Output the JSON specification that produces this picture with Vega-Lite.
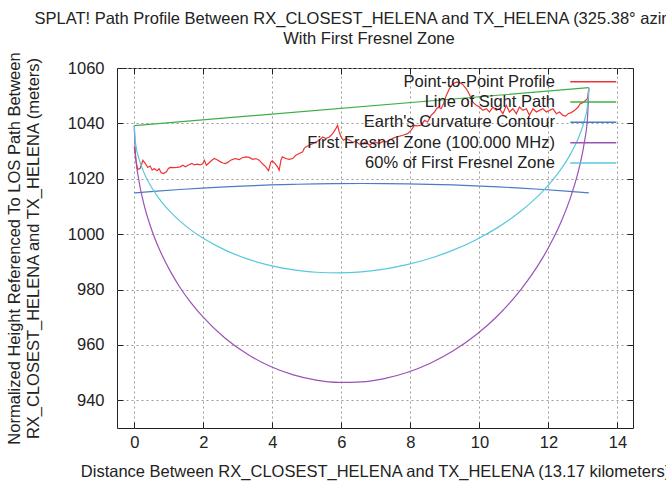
{
  "$schema": "https://vega.github.io/schema/vega-lite/v6.json",
  "width": 516,
  "height": 360,
  "autosize": {"type": "none"},
  "padding": {"left": 117, "top": 68, "right": 33, "bottom": 56},
  "background": "white",
  "title": {
    "text": ["SPLAT! Path Profile Between RX_CLOSEST_HELENA and TX_HELENA (325.38° azimuth)", "With First Fresnel Zone"],
    "anchor": "middle",
    "frame": "group",
    "font": "Liberation Sans",
    "fontSize": 16.5,
    "fontWeight": "normal",
    "color": "#222222",
    "lineHeight": 20,
    "offset": 4,
    "dx": -6
  },
  "config": {
    "view": {"stroke": "#222222", "strokeWidth": 1},
    "font": "Liberation Sans",
    "axis": {
      "labelFont": "Liberation Sans",
      "labelFontSize": 16.5,
      "labelColor": "#222222",
      "titleFont": "Liberation Sans",
      "titleFontSize": 16.5,
      "titleFontWeight": "normal",
      "titleColor": "#222222",
      "tickColor": "#222222",
      "tickSize": -6,
      "tickWidth": 1,
      "domain": false,
      "gridColor": "#9a9a9a",
      "gridDash": [2, 3],
      "gridWidth": 1,
      "gridOpacity": 1
    }
  },
  "layer": [
    {
      "encoding": {
        "x": {
          "field": "d", "type": "quantitative",
          "scale": {"domain": [-0.5, 14.45], "nice": false, "zero": false},
          "axis": {"orient": "bottom", "values": [0, 2, 4, 6, 8, 10, 12, 14], "grid": false, "labelPadding": 12, "titlePadding": 13,
                   "title": "Distance Between RX_CLOSEST_HELENA and TX_HELENA (13.17 kilometers)"}
        },
        "y": {
          "field": "h", "type": "quantitative",
          "scale": {"domain": [930, 1060], "nice": false, "zero": false},
          "axis": {"orient": "left", "values": [940, 960, 980, 1000, 1020, 1040, 1060], "format": "d", "grid": false, "labelPadding": 19, "titlePadding": 26, "titleLineHeight": 19,
                   "title": ["Normalized Height Referenced To LOS Path Between", "RX_CLOSEST_HELENA and TX_HELENA (meters)"]}
        }
      },
      "layer": [
        {
          "data": {"values": [
            {"d": 0, "h": 1031.5}, {"d": 0.05, "h": 1026.5}, {"d": 0.1, "h": 1023.4}, {"d": 0.17, "h": 1023.7}, {"d": 0.25, "h": 1026.7},
            {"d": 0.32, "h": 1025.5}, {"d": 0.39, "h": 1024.1}, {"d": 0.46, "h": 1024.6}, {"d": 0.52, "h": 1023.1}, {"d": 0.58, "h": 1023.7},
            {"d": 0.66, "h": 1022.9}, {"d": 0.72, "h": 1023.6}, {"d": 0.78, "h": 1022.2}, {"d": 0.85, "h": 1021.9}, {"d": 0.93, "h": 1022.5},
            {"d": 0.99, "h": 1023.7}, {"d": 1.04, "h": 1024.1}, {"d": 1.14, "h": 1024.0}, {"d": 1.24, "h": 1024.1}, {"d": 1.33, "h": 1024.3},
            {"d": 1.41, "h": 1024.9}, {"d": 1.48, "h": 1024.3}, {"d": 1.57, "h": 1025.0}, {"d": 1.67, "h": 1025.5}, {"d": 1.74, "h": 1025.0},
            {"d": 1.82, "h": 1025.3}, {"d": 1.91, "h": 1025.0}, {"d": 1.99, "h": 1025.5}, {"d": 2.03, "h": 1026.7}, {"d": 2.09, "h": 1024.9},
            {"d": 2.17, "h": 1025.8}, {"d": 2.25, "h": 1026.7}, {"d": 2.32, "h": 1027.3}, {"d": 2.41, "h": 1026.8}, {"d": 2.5, "h": 1026.1},
            {"d": 2.57, "h": 1025.7}, {"d": 2.64, "h": 1025.5}, {"d": 2.72, "h": 1026.0}, {"d": 2.79, "h": 1026.7}, {"d": 2.86, "h": 1027.0},
            {"d": 2.93, "h": 1027.3}, {"d": 3.04, "h": 1026.9}, {"d": 3.13, "h": 1027.6}, {"d": 3.23, "h": 1027.9}, {"d": 3.33, "h": 1027.7},
            {"d": 3.43, "h": 1027.0}, {"d": 3.52, "h": 1027.3}, {"d": 3.62, "h": 1026.7}, {"d": 3.71, "h": 1025.5}, {"d": 3.81, "h": 1024.3},
            {"d": 3.89, "h": 1022.9}, {"d": 3.96, "h": 1026.1}, {"d": 4.0, "h": 1026.5}, {"d": 4.08, "h": 1025.5}, {"d": 4.15, "h": 1024.3},
            {"d": 4.2, "h": 1023.1}, {"d": 4.25, "h": 1026.7}, {"d": 4.29, "h": 1027.9}, {"d": 4.39, "h": 1027.3}, {"d": 4.49, "h": 1027.0},
            {"d": 4.59, "h": 1027.3}, {"d": 4.68, "h": 1028.5}, {"d": 4.78, "h": 1029.1}, {"d": 4.88, "h": 1029.7}, {"d": 4.92, "h": 1030.9},
            {"d": 4.97, "h": 1031.5}, {"d": 5.07, "h": 1032.1}, {"d": 5.17, "h": 1032.7}, {"d": 5.26, "h": 1033.3}, {"d": 5.36, "h": 1033.9},
            {"d": 5.46, "h": 1035.1}, {"d": 5.55, "h": 1034.5}, {"d": 5.65, "h": 1035.1}, {"d": 5.75, "h": 1036.3}, {"d": 5.84, "h": 1038.1},
            {"d": 5.89, "h": 1039.3}, {"d": 5.94, "h": 1036.9}, {"d": 5.99, "h": 1035.1}, {"d": 6.06, "h": 1033.9}, {"d": 6.13, "h": 1034.5},
            {"d": 6.23, "h": 1034.0}, {"d": 6.33, "h": 1033.2}, {"d": 6.42, "h": 1033.5}, {"d": 6.52, "h": 1032.5}, {"d": 6.62, "h": 1032.8},
            {"d": 6.71, "h": 1033.3}, {"d": 6.81, "h": 1032.1}, {"d": 6.96, "h": 1033.3}, {"d": 7.1, "h": 1032.7}, {"d": 7.2, "h": 1033.5},
            {"d": 7.3, "h": 1033.3}, {"d": 7.39, "h": 1033.9}, {"d": 7.49, "h": 1034.6}, {"d": 7.59, "h": 1035.1}, {"d": 7.69, "h": 1035.4},
            {"d": 7.78, "h": 1035.7}, {"d": 7.92, "h": 1036.3}, {"d": 8.02, "h": 1037.5}, {"d": 8.12, "h": 1039.3}, {"d": 8.21, "h": 1039.1},
            {"d": 8.31, "h": 1039.3}, {"d": 8.41, "h": 1041.1}, {"d": 8.5, "h": 1040.5}, {"d": 8.6, "h": 1042.9}, {"d": 8.7, "h": 1044.1},
            {"d": 8.76, "h": 1045.3}, {"d": 8.82, "h": 1045.9}, {"d": 8.89, "h": 1045.3}, {"d": 8.96, "h": 1047.1}, {"d": 9.04, "h": 1050.1},
            {"d": 9.13, "h": 1052.5}, {"d": 9.23, "h": 1054.3}, {"d": 9.33, "h": 1054.9}, {"d": 9.42, "h": 1054.8}, {"d": 9.52, "h": 1054.0},
            {"d": 9.62, "h": 1052.5}, {"d": 9.71, "h": 1050.5}, {"d": 9.81, "h": 1047.7}, {"d": 9.91, "h": 1046.5}, {"d": 10.0, "h": 1045.9},
            {"d": 10.1, "h": 1044.7}, {"d": 10.2, "h": 1045.3}, {"d": 10.29, "h": 1044.1}, {"d": 10.39, "h": 1045.9}, {"d": 10.49, "h": 1044.7},
            {"d": 10.58, "h": 1045.3}, {"d": 10.68, "h": 1043.5}, {"d": 10.78, "h": 1046.5}, {"d": 10.87, "h": 1044.1}, {"d": 10.97, "h": 1045.3},
            {"d": 11.07, "h": 1043.5}, {"d": 11.16, "h": 1045.9}, {"d": 11.26, "h": 1044.7}, {"d": 11.36, "h": 1045.3}, {"d": 11.45, "h": 1042.9},
            {"d": 11.55, "h": 1045.3}, {"d": 11.65, "h": 1044.1}, {"d": 11.74, "h": 1044.7}, {"d": 11.84, "h": 1045.3}, {"d": 11.94, "h": 1044.1},
            {"d": 12.03, "h": 1044.7}, {"d": 12.13, "h": 1045.3}, {"d": 12.23, "h": 1043.5}, {"d": 12.32, "h": 1044.1}, {"d": 12.42, "h": 1042.9},
            {"d": 12.5, "h": 1042.6}, {"d": 12.57, "h": 1043.5}, {"d": 12.66, "h": 1043.9}, {"d": 12.76, "h": 1044.7}, {"d": 12.86, "h": 1045.9},
            {"d": 12.92, "h": 1047.1}, {"d": 13.0, "h": 1047.5}, {"d": 13.13, "h": 1048.9}, {"d": 13.17, "h": 1052.5}
          ]},
          "mark": {"type": "line", "strokeWidth": 1.2},
          "encoding": {
            "color": {
              "datum": "Point-to-Point Profile",
              "scale": {
                "domain": ["Point-to-Point Profile", "Line of Sight Path", "Earth's Curvature Contour", "First Fresnel Zone (100.000 MHz)", "60% of First Fresnel Zone"],
                "range": ["#ee3434", "#3cb043", "#4a7cc8", "#9a52b6", "#58c8dc"]
              },
              "legend": {
                "orient": "none", "legendX": 468, "legendY": 5.5, "title": null,
                "symbolType": "M-5,0H5", "symbolSize": 84.64, "symbolStrokeWidth": 1.5,
                "labelAlign": "right", "labelOffset": -46.6, "labelFont": "Liberation Sans", "labelFontSize": 16.5,
                "labelColor": "#222222", "labelLimit": 400, "rowPadding": 3.3, "padding": 0
              }
            }
          }
        },
        {
          "data": {"values": [{"d": 0, "h": 1039.2}, {"d": 13.17, "h": 1052.9}]},
          "mark": {"type": "line", "strokeWidth": 1.2},
          "encoding": {"color": {"datum": "Line of Sight Path"}}
        },
        {
          "data": {"values": [
            {"d": 0, "h": 1014.9}, {"d": 0.659, "h": 1015.55}, {"d": 1.317, "h": 1016.12}, {"d": 1.976, "h": 1016.63}, {"d": 2.634, "h": 1017.08},
            {"d": 3.293, "h": 1017.45}, {"d": 3.951, "h": 1017.76}, {"d": 4.61, "h": 1017.99}, {"d": 5.268, "h": 1018.16}, {"d": 5.927, "h": 1018.27},
            {"d": 6.585, "h": 1018.3}, {"d": 7.244, "h": 1018.27}, {"d": 7.902, "h": 1018.16}, {"d": 8.561, "h": 1017.99}, {"d": 9.219, "h": 1017.76},
            {"d": 9.878, "h": 1017.45}, {"d": 10.536, "h": 1017.08}, {"d": 11.195, "h": 1016.63}, {"d": 11.853, "h": 1016.12}, {"d": 12.512, "h": 1015.55},
            {"d": 13.17, "h": 1014.9}
          ]},
          "mark": {"type": "line", "strokeWidth": 1.2, "interpolate": "monotone"},
          "encoding": {"color": {"datum": "Earth's Curvature Contour"}}
        },
        {
          "data": {"values": [
            {"d": 0, "h": 1039.2}, {"d": 0.033, "h": 1029.3}, {"d": 0.132, "h": 1019.56}, {"d": 0.263, "h": 1011.64}, {"d": 0.527, "h": 1000.79},
            {"d": 0.79, "h": 992.8}, {"d": 1.054, "h": 986.37}, {"d": 1.317, "h": 980.93}, {"d": 1.646, "h": 975.17}, {"d": 1.976, "h": 970.28},
            {"d": 2.634, "h": 962.42}, {"d": 3.293, "h": 956.55}, {"d": 3.951, "h": 952.21}, {"d": 4.61, "h": 949.18}, {"d": 5.268, "h": 947.29},
            {"d": 5.927, "h": 946.47}, {"d": 6.585, "h": 946.65}, {"d": 7.244, "h": 947.84}, {"d": 7.902, "h": 950.03}, {"d": 8.561, "h": 953.29},
            {"d": 9.219, "h": 957.69}, {"d": 9.878, "h": 963.4}, {"d": 10.536, "h": 970.64}, {"d": 11.195, "h": 979.87}, {"d": 11.524, "h": 985.45},
            {"d": 11.853, "h": 991.89}, {"d": 12.116, "h": 997.87}, {"d": 12.38, "h": 1004.86}, {"d": 12.643, "h": 1013.39}, {"d": 12.907, "h": 1024.8},
            {"d": 13.038, "h": 1032.98}, {"d": 13.137, "h": 1042.94}, {"d": 13.17, "h": 1052.9}
          ]},
          "mark": {"type": "line", "strokeWidth": 1.2, "interpolate": "monotone"},
          "encoding": {"color": {"datum": "First Fresnel Zone (100.000 MHz)"}}
        },
        {
          "data": {"values": [
            {"d": 0, "h": 1039.2}, {"d": 0.033, "h": 1033.27}, {"d": 0.132, "h": 1027.47}, {"d": 0.263, "h": 1022.77}, {"d": 0.527, "h": 1016.38},
            {"d": 0.79, "h": 1011.69}, {"d": 1.054, "h": 1007.94}, {"d": 1.317, "h": 1004.79}, {"d": 1.646, "h": 1001.46}, {"d": 1.976, "h": 998.67},
            {"d": 2.634, "h": 994.23}, {"d": 3.293, "h": 990.98}, {"d": 3.951, "h": 988.65}, {"d": 4.61, "h": 987.11}, {"d": 5.268, "h": 986.24},
            {"d": 5.927, "h": 986.03}, {"d": 6.585, "h": 986.41}, {"d": 7.244, "h": 987.4}, {"d": 7.902, "h": 988.98}, {"d": 8.561, "h": 991.22},
            {"d": 9.219, "h": 994.13}, {"d": 9.878, "h": 997.83}, {"d": 10.536, "h": 1002.45}, {"d": 11.195, "h": 1008.26}, {"d": 11.524, "h": 1011.74},
            {"d": 11.853, "h": 1015.75}, {"d": 12.116, "h": 1019.44}, {"d": 12.38, "h": 1023.75}, {"d": 12.643, "h": 1028.98}, {"d": 12.907, "h": 1035.93},
            {"d": 13.038, "h": 1040.89}, {"d": 13.137, "h": 1046.91}, {"d": 13.17, "h": 1052.9}
          ]},
          "mark": {"type": "line", "strokeWidth": 1.2, "interpolate": "monotone"},
          "encoding": {"color": {"datum": "60% of First Fresnel Zone"}}
        }
      ]
    },
    {
      "data": {"values": [{"d": 0, "h": 1039.2}, {"d": 13.17, "h": 1052.9}]},
      "mark": {"type": "line", "strokeOpacity": 0},
      "encoding": {
        "x": {"field": "d", "type": "quantitative", "scale": {"domain": [-0.5, 14.45], "nice": false, "zero": false},
              "axis": {"orient": "top", "values": [0, 2, 4, 6, 8, 10, 12, 14], "labels": false, "title": null, "grid": true}},
        "y": {"field": "h", "type": "quantitative", "scale": {"domain": [930, 1060], "nice": false, "zero": false},
              "axis": {"orient": "right", "values": [940, 960, 980, 1000, 1020, 1040, 1060], "labels": false, "title": null, "grid": true}}
      }
    }
  ],
  "resolve": {"axis": {"x": "independent", "y": "independent"}}
}
